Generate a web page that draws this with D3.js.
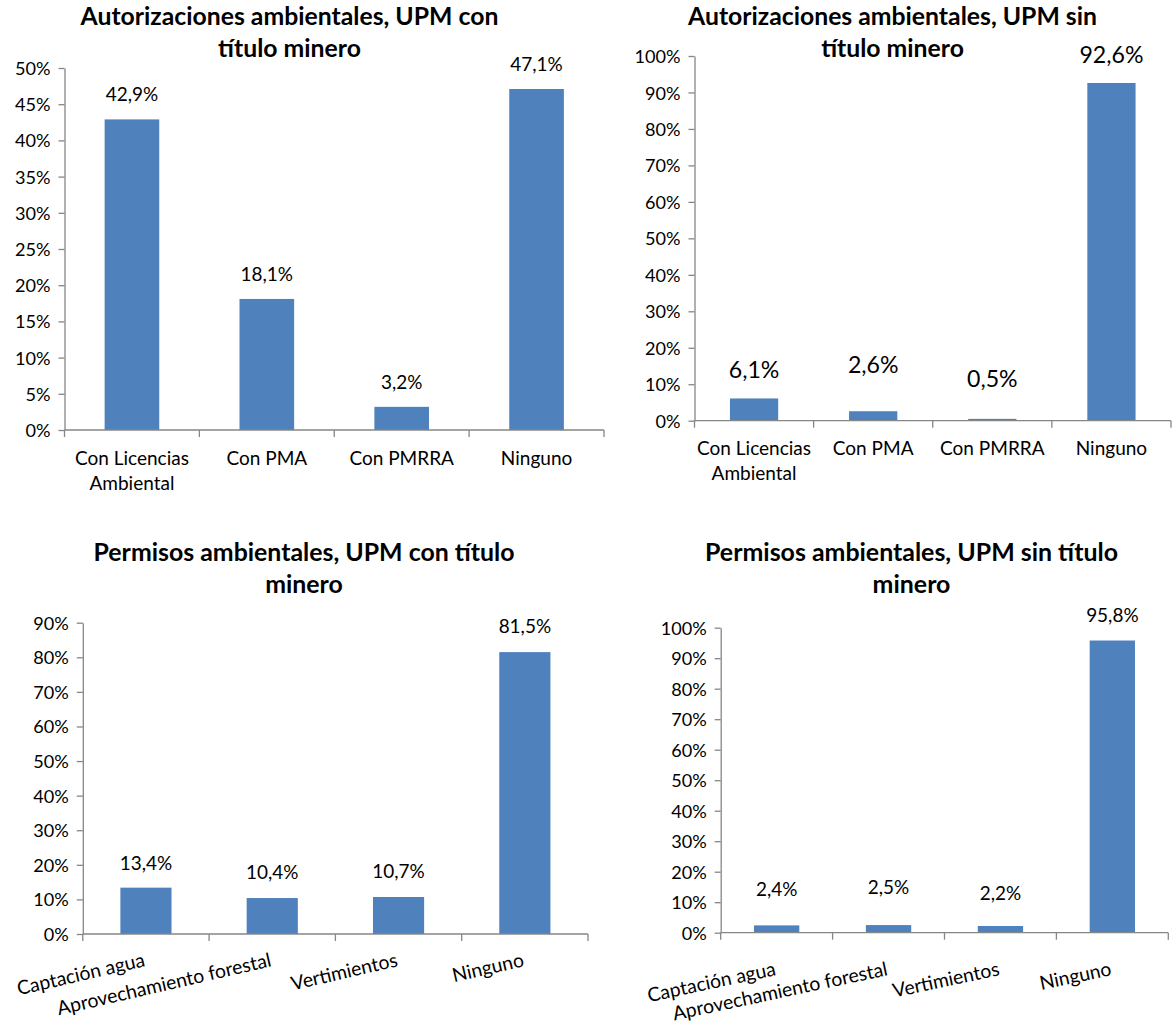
<!DOCTYPE html>
<html>
<head>
<meta charset="utf-8">
<script src="https://cdn.jsdelivr.net/npm/d3@7/dist/d3.min.js"></script>
<style>
  html, body { margin: 0; padding: 0; background: #fff; }
  svg { display: block; font-family: Lato, "Open Sans", sans-serif; }
</style>
</head>
<body>
<svg id="chart" width="1172" height="1034"></svg>
<script>
// ---------- DATA ----------
const autorizCategories = [["Con Licencias", "Ambiental"], ["Con PMA"], ["Con PMRRA"], ["Ninguno"]];
const permisosCategories = ["Captación agua", "Aprovechamiento forestal", "Vertimientos", "Ninguno"];

const autorizConTitulo = [42.9, 18.1, 3.2, 47.1];
const autorizSinTitulo = [6.1, 2.6, 0.5, 92.6];
const permisosConTitulo = [13.4, 10.4, 10.7, 81.5];
const permisosSinTitulo = [2.4, 2.5, 2.2, 95.8];

const ticksA = [0, 5, 10, 15, 20, 25, 30, 35, 40, 45, 50];
const ticksB = [0, 10, 20, 30, 40, 50, 60, 70, 80, 90, 100];
const ticksC = [0, 10, 20, 30, 40, 50, 60, 70, 80, 90];
const ticksD = [0, 10, 20, 30, 40, 50, 60, 70, 80, 90, 100];

const titleA = ["Autorizaciones ambientales, UPM con", "título minero"];
const titleB = ["Autorizaciones ambientales, UPM sin", "título minero"];
const titleC = ["Permisos ambientales, UPM con título", "minero"];
const titleD = ["Permisos ambientales, UPM sin título", "minero"];

// ---------- STYLE ----------
const BAR = "#4F81BD";
const AXIS = "#868686";
const fmt = v => v.toFixed(1).replace(".", ",") + "%";

const svg = d3.select("#chart");

// font size such that `str` renders about `target` px wide
function fitSize(str, target, weight) {
  const tmp = svg.append("text").attr("font-size", 100)
    .attr("font-weight", weight || "normal").text(str);
  const w = tmp.node().getComputedTextLength();
  tmp.remove();
  return +(100 * target / w).toFixed(2);
}
const TICK_SIZE = fitSize("100%", 46);
const CAT_SIZE = fitSize("Con Licencias", 114);
const VAL_SIZE = fitSize("42,9%", 52.5);
const VAL_SIZE_B = fitSize("92,6%", 64);
const ROT_SIZE = fitSize("Aprovechamiento forestal", 219);

function drawChart(cfg) {
  const g = svg.append("g");
  const n = cfg.values.length;
  const x = d3.scaleBand().domain(d3.range(n)).range([cfg.x0, cfg.x1])
    .paddingInner(0.595).paddingOuter(0.2975);
  const y = d3.scaleLinear().domain([0, cfg.max]).range([cfg.yBottom, cfg.yTop]);
  const bounds = d3.scaleLinear().domain([0, n]).range([cfg.x0, cfg.x1]);

  // title
  const tSize = fitSize(cfg.title[0], cfg.titleW, "bold");
  const t = g.append("text").attr("text-anchor", "middle")
    .attr("font-weight", "bold").attr("font-size", tSize).attr("fill", "#000");
  cfg.title.forEach((line, i) => {
    t.append("tspan").attr("x", cfg.titleX).attr("y", cfg.titleY + i * 32).text(line);
  });

  // y axis
  const ya = g.append("g").attr("transform", `translate(${cfg.x0},0)`)
    .call(d3.axisLeft(y).tickValues(cfg.ticks).tickSize(6).tickSizeOuter(0).tickPadding(8)
      .tickFormat(d => d + "%"));
  ya.selectAll("path, line").attr("stroke", AXIS).attr("stroke-width", 1.3);
  ya.selectAll("text").attr("font-size", TICK_SIZE).attr("fill", "#000")
    .attr("font-family", "Lato, sans-serif").attr("dy", "0.36em");

  // bars
  g.selectAll("rect.bar").data(cfg.values).join("rect")
    .attr("class", "bar")
    .attr("x", (d, i) => x(i))
    .attr("width", x.bandwidth())
    .attr("y", d => y(d))
    .attr("height", d => y(0) - y(d))
    .attr("fill", BAR);

  // x axis line + boundary ticks
  g.append("line").attr("x1", cfg.x0).attr("x2", cfg.x1)
    .attr("y1", y(0)).attr("y2", y(0)).attr("stroke", AXIS).attr("stroke-width", 1.3);
  g.selectAll("line.xt").data(d3.range(n + 1)).join("line")
    .attr("class", "xt")
    .attr("x1", d => bounds(d)).attr("x2", d => bounds(d))
    .attr("y1", y(0)).attr("y2", y(0) + 7)
    .attr("stroke", AXIS).attr("stroke-width", 1.3);

  // value labels
  g.selectAll("text.val").data(cfg.values).join("text")
    .attr("class", "val")
    .attr("text-anchor", "middle")
    .attr("x", (d, i) => x(i) + x.bandwidth() / 2)
    .attr("y", (d, i) => y(d) - cfg.labelGap[i])
    .attr("font-size", cfg.valueSize)
    .attr("fill", "#000")
    .text(d => fmt(d));

  // category labels
  if (cfg.rotate) {
    g.selectAll("text.cat").data(cfg.categories).join("text")
      .attr("class", "cat")
      .attr("text-anchor", "end")
      .attr("font-size", ROT_SIZE)
      .attr("fill", "#000")
      .attr("transform", (d, i) => `translate(${x(i) + x.bandwidth() / 2},${cfg.catY}) rotate(${cfg.rotate})`)
      .text(d => d);
  } else {
    const ct = g.selectAll("text.cat").data(cfg.categories).join("text")
      .attr("class", "cat")
      .attr("text-anchor", "middle")
      .attr("font-size", CAT_SIZE)
      .attr("fill", "#000");
    ct.each(function(d, i) {
      const el = d3.select(this);
      d.forEach((line, k) => {
        el.append("tspan").attr("x", x(i) + x.bandwidth() / 2).attr("y", cfg.catY + k * 25).text(line);
      });
    });
  }
}

drawChart({
  values: autorizConTitulo, categories: autorizCategories, ticks: ticksA, max: 50,
  x0: 64.5, x1: 604, yBottom: 430, yTop: 68,
  title: titleA, titleX: 289.5, titleY: 25, titleW: 418,
  valueSize: VAL_SIZE, labelGap: [18, 18, 18, 18],
  catY: 465
});
drawChart({
  values: autorizSinTitulo, categories: autorizCategories, ticks: ticksB, max: 100,
  x0: 694.5, x1: 1171, yBottom: 420.7, yTop: 56,
  title: titleB, titleX: 892.5, titleY: 25, titleW: 409,
  valueSize: VAL_SIZE_B, labelGap: [20, 38, 32, 20],
  catY: 455
});
drawChart({
  values: permisosConTitulo, categories: permisosCategories, ticks: ticksC, max: 90,
  x0: 82.8, x1: 588, yBottom: 934, yTop: 622.7,
  title: titleC, titleX: 304, titleY: 561, titleW: 421,
  valueSize: VAL_SIZE, labelGap: [18, 19.5, 19, 19],
  catY: 966, rotate: -13
});
drawChart({
  values: permisosSinTitulo, categories: permisosCategories, ticks: ticksD, max: 100,
  x0: 720.7, x1: 1168.3, yBottom: 932.7, yTop: 627.7,
  title: titleD, titleX: 911.5, titleY: 561, titleW: 413,
  valueSize: VAL_SIZE, labelGap: [29, 31, 26, 19],
  catY: 975, rotate: -12
});
</script>
</body>
</html>
